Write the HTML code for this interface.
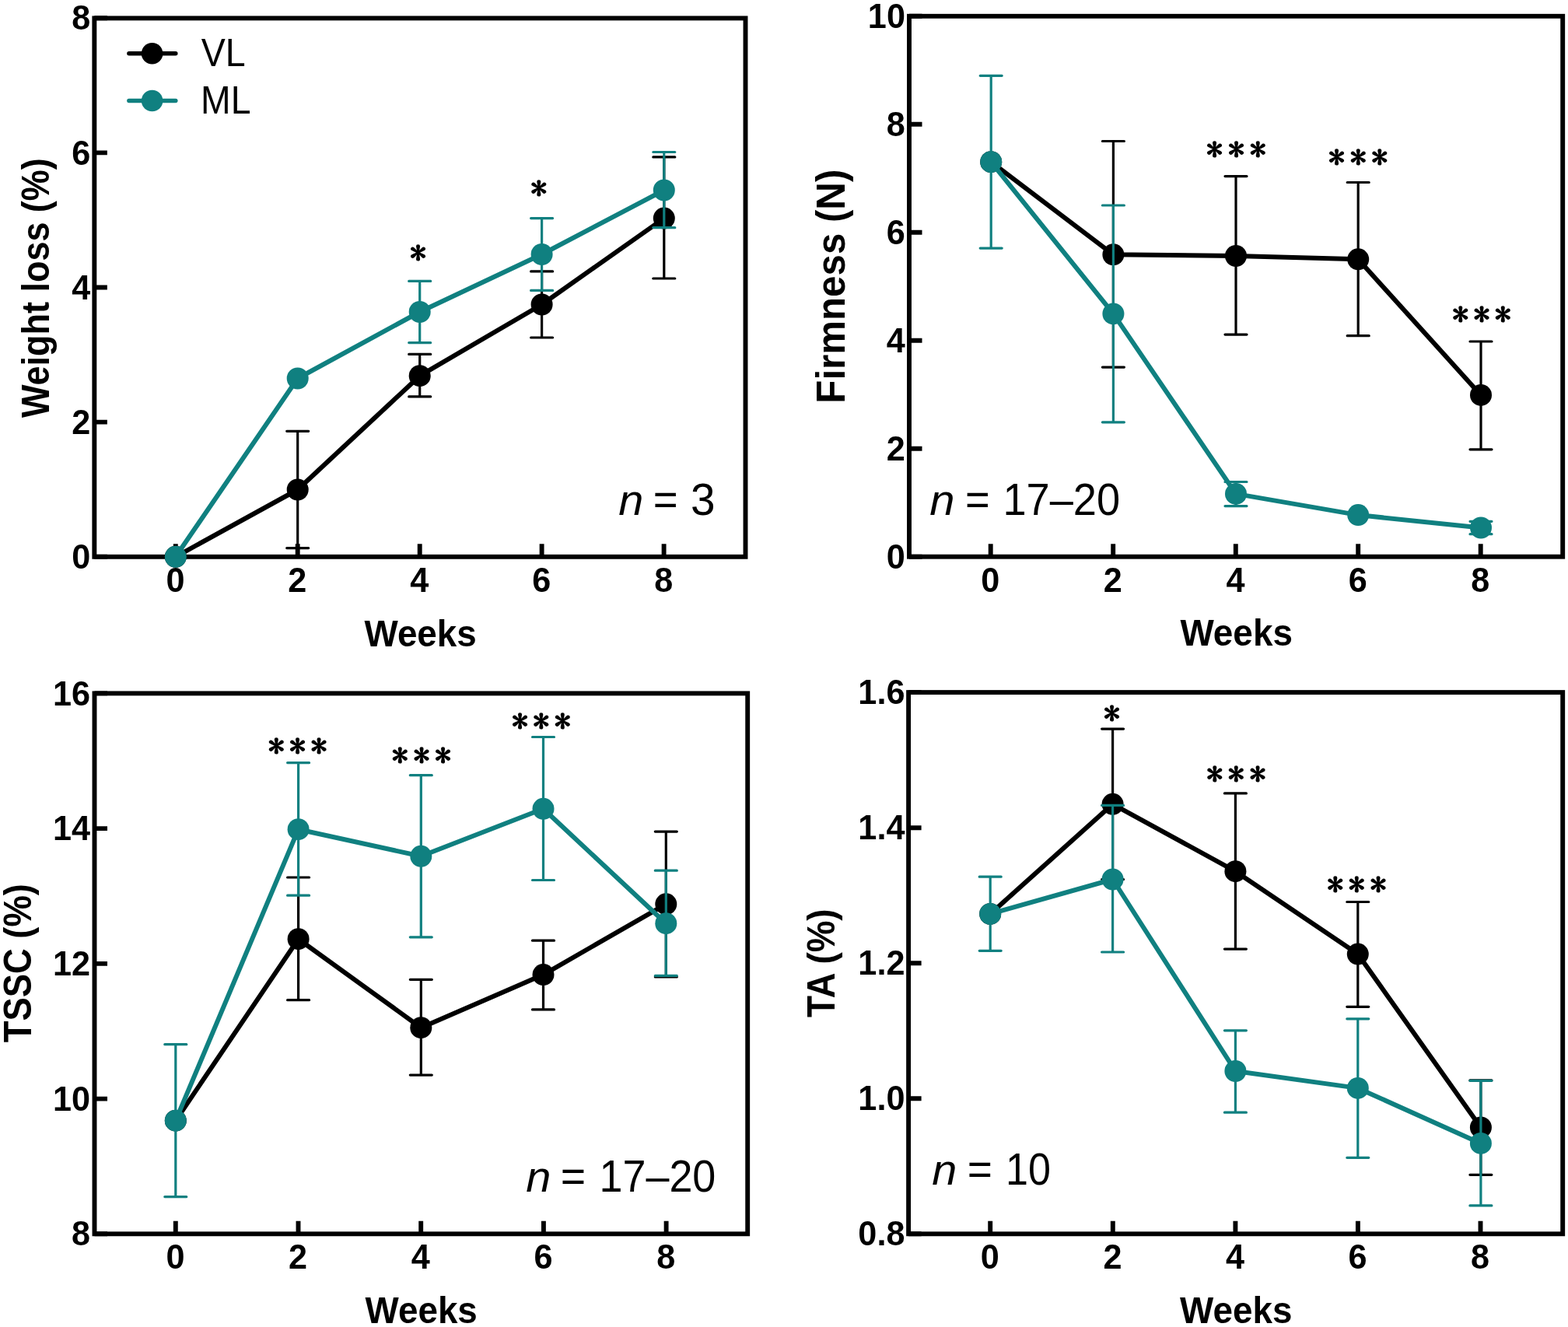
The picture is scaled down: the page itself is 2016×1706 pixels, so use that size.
<!DOCTYPE html>
<html><head><meta charset="utf-8"><title>Figure</title>
<style>
html,body{margin:0;padding:0;background:#fff;}
svg{display:block;}
text{font-family:'Liberation Sans', Arial, Helvetica, sans-serif;fill:#000;}
.tl{font-size:45px;font-weight:bold;}
.ast{font-family:IPAGothic, 'DejaVu Sans', sans-serif;font-size:39.5px;font-weight:bold;}
</style></head><body>
<svg width="2016" height="1706" viewBox="0 0 2016 1706">
<rect width="2016" height="1706" fill="#fff"/>
<rect x="121.35" y="23.4" width="837.15" height="692.4" fill="none" stroke="#000" stroke-width="5.9"/>
<path fill="none" stroke="#000" stroke-width="5.9" d="M121.35 715.8H137.85M121.35 542.65H137.85M121.35 369.5H137.85M121.35 196.35H137.85M121.35 23.2H137.85M225.8 715.8V699.3M382.7 715.8V699.3M539.7 715.8V699.3M696.6 715.8V699.3M853.6 715.8V699.3"/>
<text transform="translate(116.2 730.95) scale(0.96 1)" text-anchor="end" class="tl">0</text>
<text transform="translate(116.2 557.8) scale(0.96 1)" text-anchor="end" class="tl">2</text>
<text transform="translate(116.2 384.65) scale(0.96 1)" text-anchor="end" class="tl">4</text>
<text transform="translate(116.2 211.5) scale(0.96 1)" text-anchor="end" class="tl">6</text>
<text transform="translate(116.2 38.35) scale(0.96 1)" text-anchor="end" class="tl">8</text>
<text transform="translate(225.4 760.9) scale(0.96 1)" text-anchor="middle" class="tl">0</text>
<text transform="translate(382.3 760.9) scale(0.96 1)" text-anchor="middle" class="tl">2</text>
<text transform="translate(539.3 760.9) scale(0.96 1)" text-anchor="middle" class="tl">4</text>
<text transform="translate(696.2 760.9) scale(0.96 1)" text-anchor="middle" class="tl">6</text>
<text transform="translate(853.2 760.9) scale(0.96 1)" text-anchor="middle" class="tl">8</text>
<polyline fill="none" stroke="#000" stroke-width="6.0" stroke-linejoin="round" points="225.8,715.8 382.7,629.5 539.7,483.2 696.6,391.5 853.8,280.6"/>
<path fill="none" stroke="#000" stroke-width="3.2" d="M382.7 554.3V704.6"/>
<path fill="none" stroke="#000" stroke-width="3.2" stroke-linecap="round" d="M368.7 554.3H396.7M368.7 704.6H396.7"/>
<path fill="none" stroke="#000" stroke-width="3.2" d="M539.7 455.4V509.9"/>
<path fill="none" stroke="#000" stroke-width="3.2" stroke-linecap="round" d="M525.7 455.4H553.7M525.7 509.9H553.7"/>
<path fill="none" stroke="#000" stroke-width="3.2" d="M696.6 348.9V434"/>
<path fill="none" stroke="#000" stroke-width="3.2" stroke-linecap="round" d="M682.6 348.9H710.6M682.6 434H710.6"/>
<path fill="none" stroke="#000" stroke-width="3.2" d="M853.8 201.9V358"/>
<path fill="none" stroke="#000" stroke-width="3.2" stroke-linecap="round" d="M839.8 201.9H867.8M839.8 358H867.8"/>
<circle cx="225.8" cy="715.8" r="14.0" fill="#000"/>
<circle cx="382.7" cy="629.5" r="14.0" fill="#000"/>
<circle cx="539.7" cy="483.2" r="14.0" fill="#000"/>
<circle cx="696.6" cy="391.5" r="14.0" fill="#000"/>
<circle cx="853.8" cy="280.6" r="14.0" fill="#000"/>
<polyline fill="none" stroke="#108080" stroke-width="6.0" stroke-linejoin="round" points="225.8,715.8 382.7,486.5 539.7,401 696.6,327 853.8,244.5"/>
<path fill="none" stroke="#108080" stroke-width="3.2" d="M539.7 361.4V440.6"/>
<path fill="none" stroke="#108080" stroke-width="3.2" stroke-linecap="round" d="M525.7 361.4H553.7M525.7 440.6H553.7"/>
<path fill="none" stroke="#108080" stroke-width="3.2" d="M696.6 280.6V373.4"/>
<path fill="none" stroke="#108080" stroke-width="3.2" stroke-linecap="round" d="M682.6 280.6H710.6M682.6 373.4H710.6"/>
<path fill="none" stroke="#108080" stroke-width="3.2" d="M853.8 195.5V292.7"/>
<path fill="none" stroke="#108080" stroke-width="3.2" stroke-linecap="round" d="M839.8 195.5H867.8M839.8 292.7H867.8"/>
<circle cx="225.8" cy="715.8" r="14.0" fill="#108080"/>
<circle cx="382.7" cy="486.5" r="14.0" fill="#108080"/>
<circle cx="539.7" cy="401" r="14.0" fill="#108080"/>
<circle cx="696.6" cy="327" r="14.0" fill="#108080"/>
<circle cx="853.8" cy="244.5" r="14.0" fill="#108080"/>
<rect x="1169" y="20.8" width="840.2" height="694.9" fill="none" stroke="#000" stroke-width="5.9"/>
<path fill="none" stroke="#000" stroke-width="5.9" d="M1169 715.7H1185.5M1169 576.7H1185.5M1169 437.7H1185.5M1169 298.7H1185.5M1169 159.7H1185.5M1169 20.8H1185.5M1273.7 715.7V699.2M1431.2 715.7V699.2M1588.8 715.7V699.2M1746.2 715.7V699.2M1903.7 715.7V699.2"/>
<text transform="translate(1163.9 730.85) scale(0.96 1)" text-anchor="end" class="tl">0</text>
<text transform="translate(1163.9 591.85) scale(0.96 1)" text-anchor="end" class="tl">2</text>
<text transform="translate(1163.9 452.85) scale(0.96 1)" text-anchor="end" class="tl">4</text>
<text transform="translate(1163.9 313.85) scale(0.96 1)" text-anchor="end" class="tl">6</text>
<text transform="translate(1163.9 174.85) scale(0.96 1)" text-anchor="end" class="tl">8</text>
<text transform="translate(1163.9 35.95) scale(0.96 1)" text-anchor="end" class="tl">10</text>
<text transform="translate(1273.3 760.9) scale(0.96 1)" text-anchor="middle" class="tl">0</text>
<text transform="translate(1430.8 760.9) scale(0.96 1)" text-anchor="middle" class="tl">2</text>
<text transform="translate(1588.4 760.9) scale(0.96 1)" text-anchor="middle" class="tl">4</text>
<text transform="translate(1745.8 760.9) scale(0.96 1)" text-anchor="middle" class="tl">6</text>
<text transform="translate(1903.3 760.9) scale(0.96 1)" text-anchor="middle" class="tl">8</text>
<polyline fill="none" stroke="#000" stroke-width="6.0" stroke-linejoin="round" points="1274.2,208.2 1431.4,327.3 1589,329 1746.2,333.3 1904,507.9"/>
<path fill="none" stroke="#000" stroke-width="3.2" d="M1431.4 181.5V472.1"/>
<path fill="none" stroke="#000" stroke-width="3.2" stroke-linecap="round" d="M1417.4 181.5H1445.4M1417.4 472.1H1445.4"/>
<path fill="none" stroke="#000" stroke-width="3.2" d="M1589 226.6V430.1"/>
<path fill="none" stroke="#000" stroke-width="3.2" stroke-linecap="round" d="M1575 226.6H1603M1575 430.1H1603"/>
<path fill="none" stroke="#000" stroke-width="3.2" d="M1746.2 234.5V431.7"/>
<path fill="none" stroke="#000" stroke-width="3.2" stroke-linecap="round" d="M1732.2 234.5H1760.2M1732.2 431.7H1760.2"/>
<path fill="none" stroke="#000" stroke-width="3.2" d="M1904 439V577.8"/>
<path fill="none" stroke="#000" stroke-width="3.2" stroke-linecap="round" d="M1890 439H1918M1890 577.8H1918"/>
<circle cx="1274.2" cy="208.2" r="14.0" fill="#000"/>
<circle cx="1431.4" cy="327.3" r="14.0" fill="#000"/>
<circle cx="1589" cy="329" r="14.0" fill="#000"/>
<circle cx="1746.2" cy="333.3" r="14.0" fill="#000"/>
<circle cx="1904" cy="507.9" r="14.0" fill="#000"/>
<polyline fill="none" stroke="#108080" stroke-width="6.0" stroke-linejoin="round" points="1274.2,208.2 1431.4,403.4 1589,634.9 1746.2,662.1 1904,678.5"/>
<path fill="none" stroke="#108080" stroke-width="3.2" d="M1274.2 97.3V319.1"/>
<path fill="none" stroke="#108080" stroke-width="3.2" stroke-linecap="round" d="M1260.2 97.3H1288.2M1260.2 319.1H1288.2"/>
<path fill="none" stroke="#108080" stroke-width="3.2" d="M1431.4 264V542.8"/>
<path fill="none" stroke="#108080" stroke-width="3.2" stroke-linecap="round" d="M1417.4 264H1445.4M1417.4 542.8H1445.4"/>
<path fill="none" stroke="#108080" stroke-width="3.2" d="M1589 619.5V650.6"/>
<path fill="none" stroke="#108080" stroke-width="3.2" stroke-linecap="round" d="M1575 619.5H1603M1575 650.6H1603"/>
<path fill="none" stroke="#108080" stroke-width="3.2" d="M1904 670.3V686.7"/>
<path fill="none" stroke="#108080" stroke-width="3.2" stroke-linecap="round" d="M1890 670.3H1918M1890 686.7H1918"/>
<circle cx="1274.2" cy="208.2" r="14.0" fill="#108080"/>
<circle cx="1431.4" cy="403.4" r="14.0" fill="#108080"/>
<circle cx="1589" cy="634.9" r="14.0" fill="#108080"/>
<circle cx="1746.2" cy="662.1" r="14.0" fill="#108080"/>
<circle cx="1904" cy="678.5" r="14.0" fill="#108080"/>
<rect x="121.5" y="891.4" width="839.7" height="694.9" fill="none" stroke="#000" stroke-width="5.9"/>
<path fill="none" stroke="#000" stroke-width="5.9" d="M121.5 1586.3H138M121.5 1412.6H138M121.5 1238.9H138M121.5 1065.1H138M121.5 891.4H138M225.8 1586.3V1569.8M383.5 1586.3V1569.8M541.2 1586.3V1569.8M698.9 1586.3V1569.8M856.6 1586.3V1569.8"/>
<text transform="translate(116.1 1601.45) scale(0.96 1)" text-anchor="end" class="tl">8</text>
<text transform="translate(116.1 1427.75) scale(0.96 1)" text-anchor="end" class="tl">10</text>
<text transform="translate(116.1 1254.05) scale(0.96 1)" text-anchor="end" class="tl">12</text>
<text transform="translate(116.1 1080.25) scale(0.96 1)" text-anchor="end" class="tl">14</text>
<text transform="translate(116.1 906.55) scale(0.96 1)" text-anchor="end" class="tl">16</text>
<text transform="translate(225.4 1630.9) scale(0.96 1)" text-anchor="middle" class="tl">0</text>
<text transform="translate(383.1 1630.9) scale(0.96 1)" text-anchor="middle" class="tl">2</text>
<text transform="translate(540.8 1630.9) scale(0.96 1)" text-anchor="middle" class="tl">4</text>
<text transform="translate(698.5 1630.9) scale(0.96 1)" text-anchor="middle" class="tl">6</text>
<text transform="translate(856.2 1630.9) scale(0.96 1)" text-anchor="middle" class="tl">8</text>
<polyline fill="none" stroke="#000" stroke-width="6.0" stroke-linejoin="round" points="225.8,1440.7 383.6,1207.2 541.3,1321.2 698.5,1253.1 856.3,1162.3"/>
<path fill="none" stroke="#000" stroke-width="3.2" d="M383.6 1128V1285.7"/>
<path fill="none" stroke="#000" stroke-width="3.2" stroke-linecap="round" d="M369.6 1128H397.6M369.6 1285.7H397.6"/>
<path fill="none" stroke="#000" stroke-width="3.2" d="M541.3 1259.3V1382.1"/>
<path fill="none" stroke="#000" stroke-width="3.2" stroke-linecap="round" d="M527.3 1259.3H555.3M527.3 1382.1H555.3"/>
<path fill="none" stroke="#000" stroke-width="3.2" d="M698.5 1209.2V1297.9"/>
<path fill="none" stroke="#000" stroke-width="3.2" stroke-linecap="round" d="M684.5 1209.2H712.5M684.5 1297.9H712.5"/>
<path fill="none" stroke="#000" stroke-width="3.2" d="M856.3 1069.1V1256"/>
<path fill="none" stroke="#000" stroke-width="3.2" stroke-linecap="round" d="M842.3 1069.1H870.3M842.3 1256H870.3"/>
<circle cx="225.8" cy="1440.7" r="14.0" fill="#000"/>
<circle cx="383.6" cy="1207.2" r="14.0" fill="#000"/>
<circle cx="541.3" cy="1321.2" r="14.0" fill="#000"/>
<circle cx="698.5" cy="1253.1" r="14.0" fill="#000"/>
<circle cx="856.3" cy="1162.3" r="14.0" fill="#000"/>
<polyline fill="none" stroke="#108080" stroke-width="6.0" stroke-linejoin="round" points="225.8,1440.7 383.6,1066.2 541.3,1100.8 698.5,1039.8 856.3,1187.2"/>
<path fill="none" stroke="#108080" stroke-width="3.2" d="M225.8 1342.7V1538.6"/>
<path fill="none" stroke="#108080" stroke-width="3.2" stroke-linecap="round" d="M211.8 1342.7H239.8M211.8 1538.6H239.8"/>
<path fill="none" stroke="#108080" stroke-width="3.2" d="M383.6 980.6V1151.2"/>
<path fill="none" stroke="#108080" stroke-width="3.2" stroke-linecap="round" d="M369.6 980.6H397.6M369.6 1151.2H397.6"/>
<path fill="none" stroke="#108080" stroke-width="3.2" d="M541.3 996.7V1204.8"/>
<path fill="none" stroke="#108080" stroke-width="3.2" stroke-linecap="round" d="M527.3 996.7H555.3M527.3 1204.8H555.3"/>
<path fill="none" stroke="#108080" stroke-width="3.2" d="M698.5 947.5V1131.5"/>
<path fill="none" stroke="#108080" stroke-width="3.2" stroke-linecap="round" d="M684.5 947.5H712.5M684.5 1131.5H712.5"/>
<path fill="none" stroke="#108080" stroke-width="3.2" d="M856.3 1119.2V1254.3"/>
<path fill="none" stroke="#108080" stroke-width="3.2" stroke-linecap="round" d="M842.3 1119.2H870.3M842.3 1254.3H870.3"/>
<circle cx="225.8" cy="1440.7" r="14.0" fill="#108080"/>
<circle cx="383.6" cy="1066.2" r="14.0" fill="#108080"/>
<circle cx="541.3" cy="1100.8" r="14.0" fill="#108080"/>
<circle cx="698.5" cy="1039.8" r="14.0" fill="#108080"/>
<circle cx="856.3" cy="1187.2" r="14.0" fill="#108080"/>
<rect x="1168.1" y="890.1" width="841.1" height="696.2" fill="none" stroke="#000" stroke-width="5.9"/>
<path fill="none" stroke="#000" stroke-width="5.9" d="M1168.1 1586.3H1184.6M1168.1 1412.3H1184.6M1168.1 1238.2H1184.6M1168.1 1064.2H1184.6M1168.1 890.1H1184.6M1273.2 1586.3V1569.8M1430.8 1586.3V1569.8M1588.4 1586.3V1569.8M1745.9 1586.3V1569.8M1903.5 1586.3V1569.8"/>
<text transform="translate(1163.4 1601.45) scale(0.96 1)" text-anchor="end" class="tl">0.8</text>
<text transform="translate(1163.4 1427.45) scale(0.96 1)" text-anchor="end" class="tl">1.0</text>
<text transform="translate(1163.4 1253.35) scale(0.96 1)" text-anchor="end" class="tl">1.2</text>
<text transform="translate(1163.4 1079.35) scale(0.96 1)" text-anchor="end" class="tl">1.4</text>
<text transform="translate(1163.4 905.25) scale(0.96 1)" text-anchor="end" class="tl">1.6</text>
<text transform="translate(1272.8 1630.9) scale(0.96 1)" text-anchor="middle" class="tl">0</text>
<text transform="translate(1430.4 1630.9) scale(0.96 1)" text-anchor="middle" class="tl">2</text>
<text transform="translate(1588 1630.9) scale(0.96 1)" text-anchor="middle" class="tl">4</text>
<text transform="translate(1745.5 1630.9) scale(0.96 1)" text-anchor="middle" class="tl">6</text>
<text transform="translate(1903.1 1630.9) scale(0.96 1)" text-anchor="middle" class="tl">8</text>
<polyline fill="none" stroke="#000" stroke-width="6.0" stroke-linejoin="round" points="1273.2,1174.9 1430.6,1033.8 1588.4,1120.2 1745.8,1226.6 1903.9,1449.4"/>
<path fill="none" stroke="#000" stroke-width="3.2" d="M1430.6 937.1V1130.5"/>
<path fill="none" stroke="#000" stroke-width="3.2" stroke-linecap="round" d="M1416.6 937.1H1444.6M1416.6 1130.5H1444.6"/>
<path fill="none" stroke="#000" stroke-width="3.2" d="M1588.4 1019.9V1220.1"/>
<path fill="none" stroke="#000" stroke-width="3.2" stroke-linecap="round" d="M1574.4 1019.9H1602.4M1574.4 1220.1H1602.4"/>
<path fill="none" stroke="#000" stroke-width="3.2" d="M1745.8 1159.5V1294.3"/>
<path fill="none" stroke="#000" stroke-width="3.2" stroke-linecap="round" d="M1731.8 1159.5H1759.8M1731.8 1294.3H1759.8"/>
<path fill="none" stroke="#000" stroke-width="3.2" d="M1903.9 1388.9V1510.3"/>
<path fill="none" stroke="#000" stroke-width="3.2" stroke-linecap="round" d="M1889.9 1388.9H1917.9M1889.9 1510.3H1917.9"/>
<circle cx="1273.2" cy="1174.9" r="14.0" fill="#000"/>
<circle cx="1430.6" cy="1033.8" r="14.0" fill="#000"/>
<circle cx="1588.4" cy="1120.2" r="14.0" fill="#000"/>
<circle cx="1745.8" cy="1226.6" r="14.0" fill="#000"/>
<circle cx="1903.9" cy="1449.4" r="14.0" fill="#000"/>
<polyline fill="none" stroke="#108080" stroke-width="6.0" stroke-linejoin="round" points="1273.2,1174.9 1430.6,1130.5 1588.4,1377 1745.8,1398.9 1903.9,1469.9"/>
<path fill="none" stroke="#108080" stroke-width="3.2" d="M1273.2 1127.2V1222.3"/>
<path fill="none" stroke="#108080" stroke-width="3.2" stroke-linecap="round" d="M1259.2 1127.2H1287.2M1259.2 1222.3H1287.2"/>
<path fill="none" stroke="#108080" stroke-width="3.2" d="M1430.6 1035.4V1224"/>
<path fill="none" stroke="#108080" stroke-width="3.2" stroke-linecap="round" d="M1416.6 1035.4H1444.6M1416.6 1224H1444.6"/>
<path fill="none" stroke="#108080" stroke-width="3.2" d="M1588.4 1324.8V1430.2"/>
<path fill="none" stroke="#108080" stroke-width="3.2" stroke-linecap="round" d="M1574.4 1324.8H1602.4M1574.4 1430.2H1602.4"/>
<path fill="none" stroke="#108080" stroke-width="3.2" d="M1745.8 1309.8V1488.3"/>
<path fill="none" stroke="#108080" stroke-width="3.2" stroke-linecap="round" d="M1731.8 1309.8H1759.8M1731.8 1488.3H1759.8"/>
<path fill="none" stroke="#108080" stroke-width="3.2" d="M1903.9 1389.3V1549.9"/>
<path fill="none" stroke="#108080" stroke-width="3.2" stroke-linecap="round" d="M1889.9 1389.3H1917.9M1889.9 1549.9H1917.9"/>
<circle cx="1273.2" cy="1174.9" r="14.0" fill="#108080"/>
<circle cx="1430.6" cy="1130.5" r="14.0" fill="#108080"/>
<circle cx="1588.4" cy="1377" r="14.0" fill="#108080"/>
<circle cx="1745.8" cy="1398.9" r="14.0" fill="#108080"/>
<circle cx="1903.9" cy="1469.9" r="14.0" fill="#108080"/>
<path stroke="#000" stroke-width="5.5" stroke-linecap="round" d="M165.9 68.8H225.8"/>
<circle cx="195.6" cy="68.8" r="13.8" fill="#000"/>
<path stroke="#108080" stroke-width="5.5" stroke-linecap="round" d="M165.9 129.5H225.8"/>
<circle cx="195.6" cy="129.5" r="13.8" fill="#108080"/>
<text class="ast" text-anchor="middle" transform="translate(0 339.94) scale(1.07 1)" x="502.34">*</text>
<text class="ast" text-anchor="middle" transform="translate(0 257.13) scale(1.07 1)" x="647.48">*</text>
<text class="ast" text-anchor="middle" transform="translate(0 206.94) scale(1.07 1)" x="1459.44 1485.47 1511.5">***</text>
<text class="ast" text-anchor="middle" transform="translate(0 217.44) scale(1.07 1)" x="1606.26 1632.01 1657.76">***</text>
<text class="ast" text-anchor="middle" transform="translate(0 419.24) scale(1.07 1)" x="1755.05 1780.47 1805.89">***</text>
<text class="ast" text-anchor="middle" transform="translate(0 973.83) scale(1.07 1)" x="332.06 357.62 383.18">***</text>
<text class="ast" text-anchor="middle" transform="translate(0 986.13) scale(1.07 1)" x="480.75 506.5 532.24">***</text>
<text class="ast" text-anchor="middle" transform="translate(0 942.43) scale(1.07 1)" x="624.95 650.42 675.89">***</text>
<text class="ast" text-anchor="middle" transform="translate(0 932.33) scale(1.07 1)" x="1335.98">*</text>
<text class="ast" text-anchor="middle" transform="translate(0 1009.73) scale(1.07 1)" x="1459.53 1485.42 1511.31">***</text>
<text class="ast" text-anchor="middle" transform="translate(0 1152.43) scale(1.07 1)" x="1604.39 1630.23 1656.07">***</text>
<text y="662" font-size="57.5"><tspan x="795.26" font-style="italic" font-size="55.4" textLength="32.07" lengthAdjust="spacingAndGlyphs">n</tspan> <tspan x="839.85" textLength="31.90" lengthAdjust="spacingAndGlyphs">=</tspan> <tspan x="887.93" textLength="31.51" lengthAdjust="spacingAndGlyphs">3</tspan></text>
<text y="662.1" font-size="57.5"><tspan x="1195.35" font-style="italic" font-size="55.4" textLength="32.29" lengthAdjust="spacingAndGlyphs">n</tspan> <tspan x="1241.07" textLength="31.66" lengthAdjust="spacingAndGlyphs">=</tspan> <tspan x="1289.43" textLength="150.65" lengthAdjust="spacingAndGlyphs">17–20</tspan></text>
<text y="1532.1" font-size="57.5"><tspan x="676.36" font-style="italic" font-size="55.4" textLength="32.18" lengthAdjust="spacingAndGlyphs">n</tspan> <tspan x="720.71" textLength="32.38" lengthAdjust="spacingAndGlyphs">=</tspan> <tspan x="770.45" textLength="149.93" lengthAdjust="spacingAndGlyphs">17–20</tspan></text>
<text y="1522.9" font-size="57.5"><tspan x="1198.26" font-style="italic" font-size="55.4" textLength="32.07" lengthAdjust="spacingAndGlyphs">n</tspan> <tspan x="1243.83" textLength="32.14" lengthAdjust="spacingAndGlyphs">=</tspan> <tspan x="1292.98" textLength="57.89" lengthAdjust="spacingAndGlyphs">10</tspan></text>
<text transform="translate(62.8 537) rotate(-90) scale(0.9155 1)" style="font-size:49.1px;font-weight:bold;font-style:normal">Weight loss (%)</text>
<text transform="translate(1086.2 518.64) rotate(-90) scale(0.9362 1)" style="font-size:52.6px;font-weight:bold;font-style:normal">Firmness (N)</text>
<text transform="translate(39.9 1340.31) rotate(-90) scale(0.9100 1)" style="font-size:49.9px;font-weight:bold;font-style:normal">TSSC (%)</text>
<text transform="translate(1072.6 1308.12) rotate(-90) scale(0.9223 1)" style="font-size:49.6px;font-weight:bold;font-style:normal">TA (%)</text>
<text transform="translate(468.5 830.6) scale(0.9349 1)" style="font-size:49.0px;font-weight:bold;font-style:normal">Weeks</text>
<text transform="translate(1517.4 829.9) scale(0.9362 1)" style="font-size:49.0px;font-weight:bold;font-style:normal">Weeks</text>
<text transform="translate(469.6 1700.9) scale(0.9342 1)" style="font-size:49.0px;font-weight:bold;font-style:normal">Weeks</text>
<text transform="translate(1517.1 1700.6) scale(0.9349 1)" style="font-size:49.0px;font-weight:bold;font-style:normal">Weeks</text>
<text transform="translate(258.8 84.7) scale(0.9483 1)" style="font-size:49.1px;font-weight:normal;font-style:normal">VL</text>
<text transform="translate(258.12 145.5) scale(0.9444 1)" style="font-size:49.1px;font-weight:normal;font-style:normal">ML</text>
</svg>
</body></html>
